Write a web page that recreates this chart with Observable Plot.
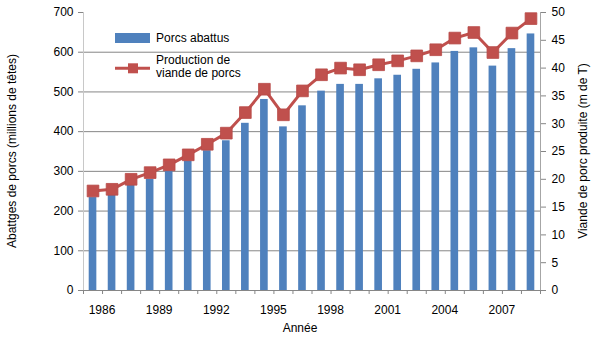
<!DOCTYPE html>
<html>
<head>
<meta charset="utf-8">
<script src="https://cdn.jsdelivr.net/npm/d3@7"></script>
<script src="https://cdn.jsdelivr.net/npm/@observablehq/plot@0.6"></script>
<style>
  html, body { margin: 0; padding: 0; background: #fff; }
  #chart { width: 610px; height: 354px; }
</style>
</head>
<body>
<div id="chart"></div>
<script>
const years = [1986, 1987, 1988, 1989, 1990, 1991, 1992, 1993, 1994, 1995, 1996, 1997,
               1998, 1999, 2000, 2001, 2002, 2003, 2004, 2005, 2006, 2007, 2008, 2009];
const porcsAbattus = [234, 242, 269, 280, 301, 326, 352, 377, 421, 481, 412, 465,
                      502, 519, 519, 533, 542, 557, 573, 602, 611, 565, 609, 646];
const viandePorcs = [17.9, 18.2, 20.0, 21.2, 22.6, 24.4, 26.3, 28.3, 32.0, 36.2, 31.6, 35.9,
                     38.8, 40.0, 39.7, 40.6, 41.3, 42.2, 43.3, 45.4, 46.4, 42.8, 46.3, 48.9];
const leftTicks = [0, 100, 200, 300, 400, 500, 600, 700];
const rightTicks = [0, 5, 10, 15, 20, 25, 30, 35, 40, 45, 50];
const yearTicks = [1986, 1989, 1992, 1995, 1998, 2001, 2004, 2007];

const leftMax = 700, rightMax = 50;
const k = leftMax / rightMax;

const data = years.map((year, i) => ({year, porcs: porcsAbattus[i], viande: viandePorcs[i]}));
const boundaries = [...years.map(y => y - 0.5), years[years.length - 1] + 0.5];

const blue = "#4F81BD", red = "#C0504D";
const gridColor = "#868686", axisColor = "#A6A6A6";

const plot = Plot.plot({
  width: 610,
  height: 354,
  marginLeft: 83,
  marginRight: 70,
  marginTop: 12,
  marginBottom: 64,
  style: {fontFamily: "'Liberation Sans', Arial, sans-serif", fontSize: "12px", color: "#000", background: "#fff"},
  x: {domain: [boundaries[0], boundaries[boundaries.length - 1]]},
  y: {domain: [0, leftMax]},
  marks: [
    Plot.gridY(leftTicks.filter(t => t > 0 && t < leftMax), {stroke: gridColor, strokeOpacity: 1}),
    Plot.axisY(leftTicks, {anchor: "left", tickSize: 5, tickPadding: 5, label: null, stroke: gridColor, fill: "#000"}),
    Plot.axisY(rightTicks.map(v => v * k), {anchor: "right", tickSize: 5, tickPadding: 6, label: null,
      tickFormat: d => String(Math.round(d / k)), stroke: gridColor, fill: "#000"}),
    Plot.ruleX([boundaries[0]], {stroke: "#C8C8C8"}),
    Plot.ruleX([boundaries[boundaries.length - 1]], {stroke: axisColor}),
    Plot.axisX(boundaries, {anchor: "bottom", tickSize: 4, tickFormat: () => "", label: null, stroke: gridColor}),
    Plot.axisX(yearTicks, {anchor: "bottom", tickSize: 0, tickPadding: 15, dx: 9, label: null,
      tickFormat: d => String(d), fill: "#000"}),
    Plot.rectY(data, {x1: d => d.year - 0.5, x2: d => d.year + 0.5, y: "porcs", fill: blue,
      insetLeft: 5.7, insetRight: 5.7}),
    Plot.ruleY([0], {stroke: gridColor}),
    Plot.line(data, {x: "year", y: d => d.viande * k, stroke: red, strokeWidth: 3}),
    Plot.dot(data, {x: "year", y: d => d.viande * k, symbol: "square", r: 6.6, fill: red, stroke: "#B84A47", strokeWidth: 0.8})
  ]
});

const svg = d3.select(plot);
const font = "'Liberation Sans', Arial, sans-serif";

// Axis titles
svg.append("text")
  .attr("transform", "translate(16,151) rotate(-90)")
  .attr("text-anchor", "middle")
  .attr("font-family", font).attr("font-size", 12).attr("fill", "#000")
  .text("Abattges de porcs (millions de têtes)");
svg.append("text")
  .attr("transform", "translate(587,151) rotate(-90)")
  .attr("text-anchor", "middle")
  .attr("font-family", font).attr("font-size", 12).attr("fill", "#000")
  .text("Viande de porc produite (m de T)");
svg.append("text")
  .attr("x", 300).attr("y", 332)
  .attr("text-anchor", "middle")
  .attr("font-family", font).attr("font-size", 12).attr("fill", "#000")
  .text("Année");

// Legend
const lg = svg.append("g").attr("font-family", font).attr("font-size", 12).attr("fill", "#000")
  .attr("text-anchor", "start");
lg.append("rect").attr("x", 115).attr("y", 33).attr("width", 35).attr("height", 10).attr("fill", blue);
lg.append("text").attr("x", 156).attr("y", 42).attr("text-anchor", "start").text("Porcs abattus");
lg.append("line").attr("x1", 115).attr("x2", 150).attr("y1", 68.3).attr("y2", 68.3)
  .attr("stroke", red).attr("stroke-width", 3);
lg.append("rect").attr("x", 128).attr("y", 63.3).attr("width", 10).attr("height", 10).attr("fill", red);
lg.append("text").attr("x", 156).attr("y", 63.5).attr("text-anchor", "start").text("Production de");
lg.append("text").attr("x", 156).attr("y", 77).attr("text-anchor", "start").text("viande de porcs");

document.getElementById("chart").appendChild(plot);
</script>
</body>
</html>
